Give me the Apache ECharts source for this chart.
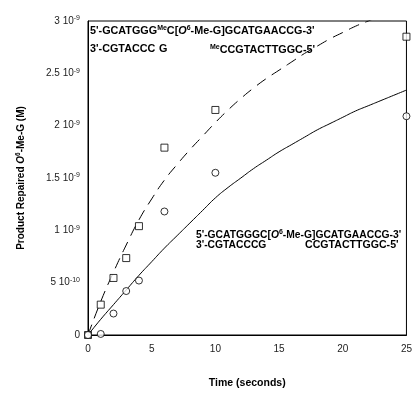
<!DOCTYPE html>
<html>
<head>
<meta charset="utf-8">
<script src="https://cdn.jsdelivr.net/npm/echarts@6/dist/echarts.min.js"></script>
<style>html,body{margin:0;padding:0;background:#fff;}#c{width:415px;height:394px;}</style>
</head>
<body>
<div id="c"></div>
<script>
// Data (product in units of 1e-9 M)
var timePts = [0, 1, 2, 3, 4, 6, 10, 25];
var squareVals = [0, 0.29, 0.545, 0.735, 1.04, 1.79, 2.15, 2.85];
var circleVals = [0, 0.01, 0.205, 0.42, 0.52, 1.18, 1.55, 2.09];
var curveT = [0,1,2,3,4,5,6,7,8,9,10,11,12,13,14,15,16,17,18,19,20,21,22,23,24,25];
var dashedVals = [0,0.32,0.60,0.86,1.10,1.30,1.48,1.63,1.77,1.90,2.03,2.15,2.26,2.36,2.45,2.53,2.61,2.69,2.76,2.83,2.89,2.95,3.00,3.05,3.10,3.15];
var solidVals = [0,0.15,0.29,0.43,0.57,0.70,0.83,0.95,1.07,1.19,1.31,1.41,1.50,1.59,1.67,1.75,1.82,1.89,1.96,2.02,2.08,2.14,2.19,2.24,2.29,2.34];
var yTickMant = ['0', '5', '1', '1.5', '2', '2.5', '3'];
var yTickExp = ['', '-10', '-9', '-9', '-9', '-9', '-9'];
var xTicks = ['0', '5', '10', '15', '20', '25'];

function pairs(xs, ys) { return xs.map(function (x, i) { return [x, ys[i]]; }); }

var FONT = 'Liberation Sans, Arial, sans-serif';
var chart = echarts.init(document.getElementById('c'));
function mkRich(fs) {
  return {
    b: {fontFamily: FONT, fontSize: fs, fontWeight: 'bold', color: '#000', lineHeight: 12},
    i: {fontFamily: FONT, fontSize: fs, fontWeight: 'bold', fontStyle: 'italic', color: '#000', lineHeight: 12},
    s: {fontFamily: FONT, fontSize: 7, fontWeight: 'bold', color: '#000', verticalAlign: 'top', lineHeight: 7}
  };
}

function txt(left, top, text, fs) {
  return {type: 'text', left: left, top: top, style: {text: text, rich: mkRich(fs), font: 'bold ' + fs + 'px ' + FONT, fill: '#000'}};
}

chart.setOption({
  animation: false,
  backgroundColor: '#fff',
  grid: {left: 88, right: 6, top: 21, bottom: 53, show: true, borderColor: '#000', borderWidth: 1},
  xAxis: {
    type: 'value', min: 0, max: 25, interval: 5,
    name: 'Time (seconds)', nameLocation: 'middle', nameGap: 43,
    nameTextStyle: {fontFamily: FONT, fontSize: 10.5, fontWeight: 'bold', color: '#000'},
    axisLine: {show: true, lineStyle: {color: '#000', width: 1}},
    axisTick: {show: false},
    splitLine: {show: false},
    axisLabel: {fontFamily: FONT, fontSize: 10, color: '#222', margin: 9,
      formatter: function (v) { return xTicks[Math.round(v / 5)]; }}
  },
  yAxis: {
    type: 'value', min: 0, max: 3, interval: 0.5,
    name: '{b|Product Repaired }{i|O}{s|6}{b|-Me-G (M)}', nameLocation: 'middle', nameGap: 61,
    nameTextStyle: {fontFamily: FONT, fontSize: 10, fontWeight: 'bold', color: '#000',
      rich: {
        b: {fontFamily: FONT, fontSize: 10, fontWeight: 'bold', color: '#000', lineHeight: 12},
        i: {fontFamily: FONT, fontSize: 10, fontWeight: 'bold', fontStyle: 'italic', color: '#000', lineHeight: 12},
        s: {fontFamily: FONT, fontSize: 6.5, fontWeight: 'bold', color: '#000', verticalAlign: 'top', lineHeight: 7}
      }},
    axisLine: {show: true, lineStyle: {color: '#000', width: 1}},
    axisTick: {show: false},
    splitLine: {show: false},
    axisLabel: {
      margin: 8,
      formatter: function (v) {
        var i = Math.round(v / 0.5);
        return yTickExp[i] ? '{a|' + yTickMant[i] + ' 10}{s|' + yTickExp[i] + '}' : '{a|' + yTickMant[i] + '}';
      },
      rich: {
        a: {fontFamily: FONT, fontSize: 10, color: '#222', lineHeight: 12},
        s: {fontFamily: FONT, fontSize: 7, color: '#222', verticalAlign: 'top', lineHeight: 7}
      }
    }
  },
  series: [
    {type: 'line', data: pairs(curveT, dashedVals), showSymbol: false, symbol: 'none', smooth: true, clip: true,
      lineStyle: {color: '#000', width: 1, type: [11, 7]}, z: 2},
    {type: 'line', data: pairs(curveT, solidVals), showSymbol: false, symbol: 'none', smooth: true, clip: true,
      lineStyle: {color: '#000', width: 1}, z: 2},
    {type: 'scatter', data: pairs(timePts, squareVals), symbol: 'rect', symbolSize: 7, clip: false,
      itemStyle: {color: '#fff', borderColor: '#000', borderWidth: 1}, z: 3},
    {type: 'scatter', data: pairs(timePts, circleVals), symbol: 'circle', symbolSize: 7, clip: false,
      itemStyle: {color: '#fff', borderColor: '#000', borderWidth: 1}, z: 3}
  ],
  graphic: [
    txt(90, 25, "{b|5'-GCATGGG}{s|Me}{b|C[}{i|O}{s|6}{b|-Me-G]GCATGAACCG-3'}", 10.8),
    txt(90, 44, "{b|3'-CGTACCC}", 10.8),
    txt(159, 44, "{b|G}", 10.8),
    txt(210, 44, "{s|Me}{b|CCGTACTTGGC-5'}", 10.8),
    txt(196, 229, "{b|5'-GCATGGGC[}{i|O}{s|6}{b|-Me-G]GCATGAACCG-3'}", 10.3),
    txt(196, 240, "{b|3'-CGTACCCG}", 10.3),
    txt(305, 240, "{b|CCGTACTTGGC-5'}", 10.6)
  ]
});
</script>
</body>
</html>
